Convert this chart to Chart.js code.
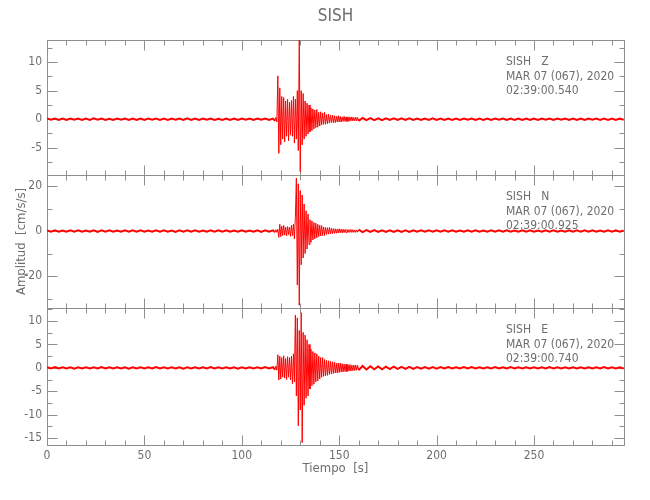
<!DOCTYPE html>
<html>
<head>
<meta charset="utf-8">
<script src="https://cdn.jsdelivr.net/npm/chart.js@4.4.1/dist/chart.umd.min.js"></script>
<style>
  html, body { margin: 0; padding: 0; background: #fff; }
  #wrap { width: 650px; height: 500px; position: relative; }
</style>
</head>
<body>
<div id="wrap"><canvas id="sismo"></canvas></div>
<script>
// ---- datos ----
const station = 'SISH';
const components = ['Z', 'N', 'E'];
const dateText = 'MAR 07 (067), 2020';
const startTimes = ['02:39:00.540', '02:39:00.925', '02:39:00.740'];

// ticks
const xTicks = [0, 50, 100, 150, 200, 250];
const zTicks = [-5, 0, 5, 10];
const nTicks = [-20, 0, 20];
const eTicks = [-15, -10, -5, 0, 5, 10];
const zRange = [-9.8, 13.9];
const nRange = [-34.2, 24.9];
const eRange = [-16.5, 12.8];
const xMax = 296.2;

// muestreo: ruido antes (cada 2 s desde 0), evento (cada 0.5 s desde 117), ruido despues (cada 2 s desde 162)
const zPre = [0.12,-0.1,0.12,-0.12,0.1,-0.12,0.12,-0.08,0.12,-0.12,
  0.1,-0.12,0.14,-0.1,0.12,-0.12,0.08,-0.12,0.12,-0.1,
  0.12,-0.12,0.1,-0.12,0.12,-0.14,0.12,-0.1,0.12,-0.12,
  0.1,-0.12,0.12,-0.08,0.12,-0.12,0.14,-0.12,0.1,-0.12,
  0.12,-0.1,0.12,-0.12,0.08,-0.12,0.12,-0.12,0.1,-0.12,
  0.12,-0.1,0.12,-0.12,0.12,-0.1,0.12,-0.12,0.1];
const zEvent = [-0.3,0.3,-0.5,7.6,-6.0,5.5,-4.5,4.0,-3.5,3.8,
  -4.0,3.2,-3.0,3.5,-3.8,3.0,-2.8,3.3,-3.0,4.0,
  -4.2,3.5,-3.5,5.0,-5.5,14.2,-9.2,5.0,-4.5,4.5,
  -3.5,3.2,-3.0,2.8,-2.6,2.5,-2.2,2.0,-2.0,1.8,
  -1.7,1.6,-1.5,1.7,-1.4,1.2,-1.2,1.3,-1.0,1.1,
  -0.9,1.2,-0.9,0.8,-0.8,0.9,-0.7,0.7,-0.6,0.7,
  -0.6,0.6,-0.6,0.5,-0.5,0.6,-0.5,0.5,-0.5,0.4,
  -0.4,0.5,-0.4,0.4,-0.4,0.4,-0.4,0.4,-0.3,0.4,
  -0.3,0.3,-0.3,0.35,-0.3,0.3,-0.3];
const zPost = [0.2,-0.18,0.2,-0.16,0.16,-0.18,0.15,-0.14,0.15,-0.15,
  0.14,-0.15,0.14,-0.12,0.12,-0.14,0.12,-0.12,0.14,-0.12,
  0.12,-0.12,0.1,-0.12,0.12,-0.12,0.12,-0.1,0.12,-0.12,
  0.1,-0.12,0.12,-0.12,0.12,-0.1,0.12,-0.12,0.1,-0.12,
  0.12,-0.12,0.1,-0.12,0.12,-0.12,0.12,-0.1,0.12,-0.12,
  0.12,-0.1,0.12,-0.12,0.1,-0.12,0.12,-0.12,0.12,-0.1,
  0.12,-0.12,0.1,-0.12,0.12,-0.12,0.12,-0.1];

const nPre = [0.3,-0.25,0.3,-0.3,0.25,-0.3,0.35,-0.25,0.3,-0.3,
  0.25,-0.3,0.3,-0.35,0.3,-0.25,0.3,-0.3,0.25,-0.3,
  0.3,-0.3,0.35,-0.25,0.3,-0.3,0.25,-0.3,0.3,-0.25,
  0.3,-0.3,0.25,-0.35,0.3,-0.3,0.3,-0.25,0.3,-0.3,
  0.25,-0.3,0.3,-0.3,0.35,-0.25,0.3,-0.3,0.25,-0.3,
  0.3,-0.3,0.25,-0.3,0.3,-0.35,0.3,-0.25,0.3];
const nEvent = [-0.5,0.6,-0.6,0.8,-2.8,3.0,-2.5,2.2,-2.0,2.5,
  -1.8,1.8,-2.2,2.0,-1.6,1.8,-2.4,2.6,-2.0,3.0,
  -3.5,6.0,23.5,-24.0,21.0,-33.0,18.0,-15.0,16.0,-12.0,
  12.0,-10.0,9.0,-8.0,7.5,-6.0,5.0,-5.0,4.5,-4.0,
  3.8,-3.5,3.5,-3.0,3.0,-2.5,2.6,-2.2,2.4,-2.0,
  1.8,-2.0,1.6,-1.5,1.5,-1.4,1.6,-1.3,1.2,-1.2,
  1.1,-1.0,1.0,-1.0,0.9,-0.9,1.0,-0.8,0.8,-0.8,
  0.8,-0.7,0.7,-0.7,0.7,-0.6,0.6,-0.6,0.7,-0.6,
  0.6,-0.6,0.5,-0.6,0.5,-0.5,0.6];
const nPost = [-0.45,0.45,-0.4,0.4,-0.4,0.35,-0.4,0.35,-0.35,0.35,
  -0.35,0.3,-0.35,0.35,-0.3,0.35,-0.3,0.3,-0.3,0.3,
  -0.3,0.3,-0.25,0.3,-0.3,0.25,-0.3,0.3,-0.25,0.3,
  -0.3,0.25,-0.25,0.3,-0.3,0.3,-0.25,0.3,-0.3,0.25,
  -0.3,0.3,-0.25,0.3,-0.3,0.25,-0.3,0.3,-0.25,0.3,
  -0.3,0.25,-0.3,0.3,-0.25,0.3,-0.3,0.3,-0.25,0.3,
  -0.3,0.25,-0.3,0.3,-0.25,0.3,-0.3,0.25];

const ePre = [0.14,-0.14,0.16,-0.14,0.14,-0.12,0.14,-0.16,0.14,-0.14,
  0.12,-0.14,0.14,-0.14,0.16,-0.14,0.14,-0.12,0.14,-0.14,
  0.14,-0.16,0.14,-0.14,0.12,-0.14,0.14,-0.14,0.16,-0.14,
  0.14,-0.14,0.12,-0.14,0.14,-0.16,0.14,-0.14,0.14,-0.12,
  0.14,-0.14,0.16,-0.14,0.14,-0.14,0.12,-0.14,0.14,-0.16,
  0.14,-0.14,0.14,-0.12,0.14,-0.14,0.16,-0.14,0.14];
const eEvent = [-0.4,0.4,-0.5,2.8,-2.6,2.5,-2.4,2.2,-2.0,2.6,
  -2.2,2.0,-2.5,2.4,-2.0,2.2,-2.6,2.5,-3.4,3.0,
  -3.0,11.3,-6.0,10.7,-12.4,8.0,-9.0,11.8,-16.0,7.6,
  -8.0,7.0,-6.5,6.0,-6.0,5.0,-4.5,4.0,-3.8,3.5,
  -3.5,3.2,-3.0,3.0,-2.8,2.5,-2.4,2.2,-2.0,2.2,
  -1.8,1.8,-1.7,1.6,-1.6,1.5,-1.4,1.4,-1.3,1.3,
  -1.2,1.2,-1.1,1.0,-1.1,1.0,-1.0,1.0,-0.9,0.9,
  -0.9,0.8,-0.8,0.8,-0.8,0.7,-0.7,0.7,-0.7,0.6,
  -0.6,0.6,-0.6,0.6,-0.5,0.5,-0.5];
const ePost = [0.4,-0.35,0.35,-0.3,0.3,-0.3,0.25,-0.25,0.25,-0.22,
  0.22,-0.2,0.2,-0.2,0.18,-0.18,0.18,-0.16,0.16,-0.16,
  0.15,-0.15,0.16,-0.15,0.14,-0.15,0.15,-0.14,0.15,-0.14,
  0.14,-0.15,0.14,-0.14,0.15,-0.14,0.14,-0.14,0.15,-0.14,
  0.14,-0.14,0.14,-0.15,0.14,-0.14,0.14,-0.14,0.15,-0.14,
  0.14,-0.14,0.14,-0.14,0.14,-0.15,0.14,-0.14,0.14,-0.14,
  0.14,-0.14,0.15,-0.14,0.14,-0.14,0.14,-0.14];

// une los tres tramos con su tiempo de muestreo
function trace(pre, ev, post) {
  const pts = [];
  pre.forEach((v, i) => pts.push({ x: i * 2, y: v }));
  ev.forEach((v, i) => pts.push({ x: 117 + i * 0.5, y: v }));
  post.forEach((v, i) => pts.push({ x: 162 + i * 2, y: v }));
  return pts;
}

const FONT = "'Liberation Sans Narrow', 'DejaVu Sans Condensed', sans-serif";
const GRAY = '#8f8f8f';
const TXT = '#6e6e6e';

const panels = [
  { id: 'yZ', ticks: zTicks, minor: 2.5, range: zRange, weight: 135, comp: 0 },
  { id: 'yN', ticks: nTicks, minor: 10, range: nRange, weight: 133, comp: 1 },
  { id: 'yE', ticks: eTicks, minor: 2.5, range: eRange, weight: 137, comp: 2 }
];

// marco con ticks hacia adentro + textos
const framePlugin = {
  id: 'frame',
  beforeDatasetsDraw(chart) {
    const ctx = chart.ctx, a = chart.chartArea, xs = chart.scales.x;
    const L = Math.round(a.left) + 0.5, R = Math.round(a.right) + 0.5;
    ctx.save();
    ctx.strokeStyle = GRAY;
    ctx.lineWidth = 1;
    panels.forEach(p => {
      const ys = chart.scales[p.id];
      const T = Math.round(ys.top) + 0.5, B = Math.round(ys.bottom) + 0.5;
      ctx.strokeRect(L, T, R - L, B - T);
      ctx.beginPath();
      for (let t = 0; t <= xMax; t += 10) {
        const len = xTicks.includes(t) ? 10 : 5;
        const x = Math.round(xs.getPixelForValue(t)) + 0.5;
        ctx.moveTo(x, T); ctx.lineTo(x, T + len);
        ctx.moveTo(x, B); ctx.lineTo(x, B - len);
      }
      for (let v = Math.ceil(ys.min / p.minor) * p.minor; v <= ys.max; v += p.minor) {
        const len = p.ticks.includes(v) ? 10 : 5;
        const y = Math.round(ys.getPixelForValue(v)) + 0.5;
        ctx.moveTo(L, y); ctx.lineTo(L + len, y);
        ctx.moveTo(R, y); ctx.lineTo(R - len, y);
      }
      ctx.stroke();
    });
    ctx.restore();
  },
  afterDraw(chart) {
    const ctx = chart.ctx, a = chart.chartArea;
    ctx.save();
    ctx.fillStyle = TXT;
    ctx.textBaseline = 'top';
    ctx.textAlign = 'center';
    ctx.font = '17px ' + FONT;
    ctx.fillText(station, (a.left + a.right) / 2, 8);
    ctx.textAlign = 'left';
    ctx.font = '12px ' + FONT;
    panels.forEach(p => {
      const top = chart.scales[p.id].top;
      ctx.fillText(station + '   ' + components[p.comp], 506, top + 16);
      ctx.fillText(dateText, 506, top + 30.5);
      ctx.fillText(startTimes[p.comp], 506, top + 44.5);
    });
    ctx.restore();
  }
};

function yScale(p, withTitle) {
  return {
    type: 'linear',
    position: 'left',
    stack: 'sismo',
    stackWeight: p.weight,
    min: p.range[0],
    max: p.range[1],
    grid: { display: false, drawTicks: false },
    border: { display: false },
    afterBuildTicks: s => { s.ticks = p.ticks.map(v => ({ value: v })); },
    afterFit: s => { s.width = 47; },
    ticks: { color: TXT, padding: 5, autoSkip: false, font: { family: FONT, size: 12 } },
    title: {
      display: withTitle,
      text: 'Amplitud  [cm/s/s]',
      color: TXT,
      padding: { top: 14, bottom: 0 },
      font: { family: FONT, size: 13 }
    }
  };
}

const traces = [trace(zPre, zEvent, zPost), trace(nPre, nEvent, nPost), trace(ePre, eEvent, ePost)];

// el ruido de fondo se ve como banda gruesa
const quietWidth = ctx => (ctx.p0.parsed.x < 117 || ctx.p1.parsed.x > 160) ? 2 : 1;

new Chart(document.getElementById('sismo'), {
  type: 'line',
  data: {
    datasets: panels.map((p, i) => ({
      label: station + ' ' + components[i],
      data: traces[i],
      yAxisID: p.id,
      borderColor: '#ff0000',
      borderWidth: 1,
      segment: { borderWidth: quietWidth },
      pointRadius: 0,
      tension: 0
    }))
  },
  options: {
    responsive: true,
    maintainAspectRatio: false,
    animation: false,
    layout: { padding: { left: 0, right: 26, top: 40, bottom: 0 } },
    plugins: { legend: { display: false }, tooltip: { enabled: false } },
    scales: {
      x: {
        type: 'linear',
        min: 0,
        max: xMax,
        grid: { display: false, drawTicks: false },
        border: { display: false },
        afterBuildTicks: s => { s.ticks = xTicks.map(v => ({ value: v })); },
        afterFit: s => { s.height = 55; },
        ticks: { color: TXT, padding: 4, autoSkip: false, maxRotation: 0, font: { family: FONT, size: 12 } },
        title: {
          display: true,
          text: 'Tiempo  [s]',
          color: TXT,
          padding: { top: 0, bottom: 24 },
          font: { family: FONT, size: 13 }
        }
      },
      // la pila se arma de abajo hacia arriba
      yE: yScale(panels[2], false),
      yN: yScale(panels[1], true),
      yZ: yScale(panels[0], false)
    }
  },
  plugins: [framePlugin]
});
</script>
</body>
</html>
